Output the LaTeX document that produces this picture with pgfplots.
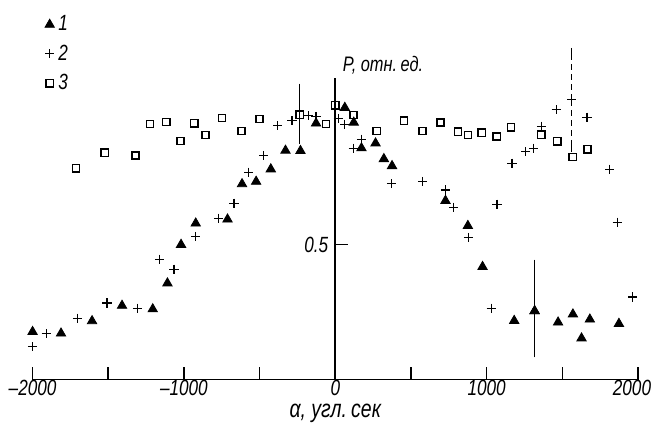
\documentclass[border=0pt]{standalone}
\usepackage{fontspec}
\setmainfont{Liberation Sans}[FakeStretch=0.78]
\usepackage{pgfplots}
\pgfplotsset{compat=1.18}
\begin{document}
\begin{tikzpicture}
\begin{axis}[
  scale only axis, width=302.7pt, height=150.75pt,
  xmin=-2000, xmax=2000, ymin=0, ymax=1.118,
  axis x line=bottom, axis y line=center,
  axis line style={-, line width=0.9pt},
  clip=false,
  xtick={-2000,-1000,0,1000,2000},
  xticklabels={\textendash2000,\textendash1000,0,1000,\hspace*{-6pt}2000},
  minor xtick={-1500,-500,500,1500},
  ytick={0.5}, yticklabels={0.5},
  tick align=inside,
  major tick length=6.5pt, minor tick length=6.5pt,
  every tick/.style={black, line width=0.8pt},
  tick label style={font=\itshape\fontsize{11}{12}\selectfont},
  xticklabel style={yshift=1pt, inner sep=1pt},
  xlabel={\itshape α, угл.\,сек},
  xlabel style={font=\fontsize{12.5}{13}\selectfont, yshift=-2.5pt, inner sep=0.5pt},
  legend style={at={(rel axis cs:0.01,1.235)}, anchor=north west, draw=none, fill=none,
    font=\itshape\fontsize{11}{12}\selectfont, row sep=1.5pt},
  legend cell align=left,
  legend image code/.code={\draw[#1] plot coordinates {(0.18cm,0cm)};},
]
\addplot[only marks, mark=triangle*, mark size=2.7pt, black] coordinates {
(-2000,0.177) (-1812,0.171) (-1607,0.217) (-1409,0.274) (-1206,0.261) (-1109,0.357)
(-1019,0.500) (-922,0.579) (-712,0.594) (-616,0.725) (-523,0.734) (-426,0.780)
(-329,0.849) (-230,0.848) (-127,0.950) (63,1.008) (122,0.953) (173,0.858) (266,0.876)
(321,0.818) (375,0.792) (728,0.663) (876,0.570) (973,0.418) (1182,0.218) (1317,0.254)
(1472,0.212) (1570,0.242) (1627,0.153) (1682,0.223) (1874,0.207)
};
\addlegendentry{1}
\addplot[only marks, mark=+, mark size=2.3pt, black, mark options={line width=0.6pt}] coordinates {
(-2000,0.122) (-1909,0.170) (-1704,0.227) (-1508,0.284) (-1307,0.264) (-1162,0.446)
(-1065,0.409) (-922,0.530) (-770,0.598) (-669,0.654) (-572,0.769) (-473,0.831)
(-380,0.941) (-286,0.959) (-175,0.978) (-127,0.975) (20,0.968) (63,0.947) (118,0.858)
(173,0.891) (371,0.726) (578,0.734) (728,0.703) (781,0.639) (880,0.527) (1030,0.264)
(1069,0.650) (1168,0.802) (1259,0.845) (1312,0.858) (1363,0.939) (1459,1.000)
(1562,1.037) (1663,0.973) (1814,0.780) (1862,0.583) (1966,0.306)
};
\addlegendentry{2}
\addplot[only marks, mark=square, mark size=1.8pt, black, mark options={line width=0.7pt, fill=white}] coordinates {
(-1713,0.783) (-1523,0.841) (-1320,0.831) (-1224,0.948) (-1116,0.955) (-1023,0.885)
(-931,0.950) (-858,0.907) (-748,0.969) (-620,0.922) (-501,0.966) (-235,0.982)
(-61,0.947) (0,1.017) (120,0.981) (274,0.922) (453,0.960) (576,0.922) (695,0.953)
(812,0.919) (876,0.907) (968,0.915) (1067,0.901) (1162,0.935) (1361,0.908)
(1467,0.883) (1568,0.825) (1667,0.854)
};
\addlegendentry{3}
% error bars
\addplot[forget plot, only marks, mark=triangle*, mark size=2.7pt, black,
  error bars/.cd, y dir=both, y explicit, error mark=-, error mark options={mark size=1.8pt, line width=0.6pt},
  error bar style={line width=0.6pt}] coordinates {
(1317,0.254) += (0,0.177) -= (0,0.159)
};
\addplot[forget plot, only marks, mark=+, mark size=2.3pt, black, mark options={line width=0.6pt},
  error bars/.cd, y dir=both, y explicit, error mark=-, error mark options={mark size=1.8pt, line width=0.6pt},
  error bar style={line width=0.5pt, densely dashed}] coordinates {
(1562,1.037) += (0,0.179) -= (0,0.179)
};
\addplot[forget plot, only marks, mark=square, mark size=1.8pt, black, mark options={line width=0.7pt, fill=white},
  error bars/.cd, y dir=both, y explicit, error mark=-, error mark options={mark size=1.8pt, line width=0.6pt},
  error bar style={line width=0.6pt}] coordinates {
(-235,0.982) += (0,0.102) -= (0,0.096)
};
\node[anchor=south west, inner sep=0pt, font=\itshape\fontsize{10.5}{12}\selectfont] at (rel axis cs:0.512,1.01) {P, отн.\,ед.};
\coordinate (BL) at (rel axis cs:-0.0538,-0.141);
\coordinate (TR) at (rel axis cs:1.0248,1.2587);
\end{axis}
\pgfresetboundingbox
\path[use as bounding box] (BL) rectangle (TR);
\end{tikzpicture}
\end{document}
